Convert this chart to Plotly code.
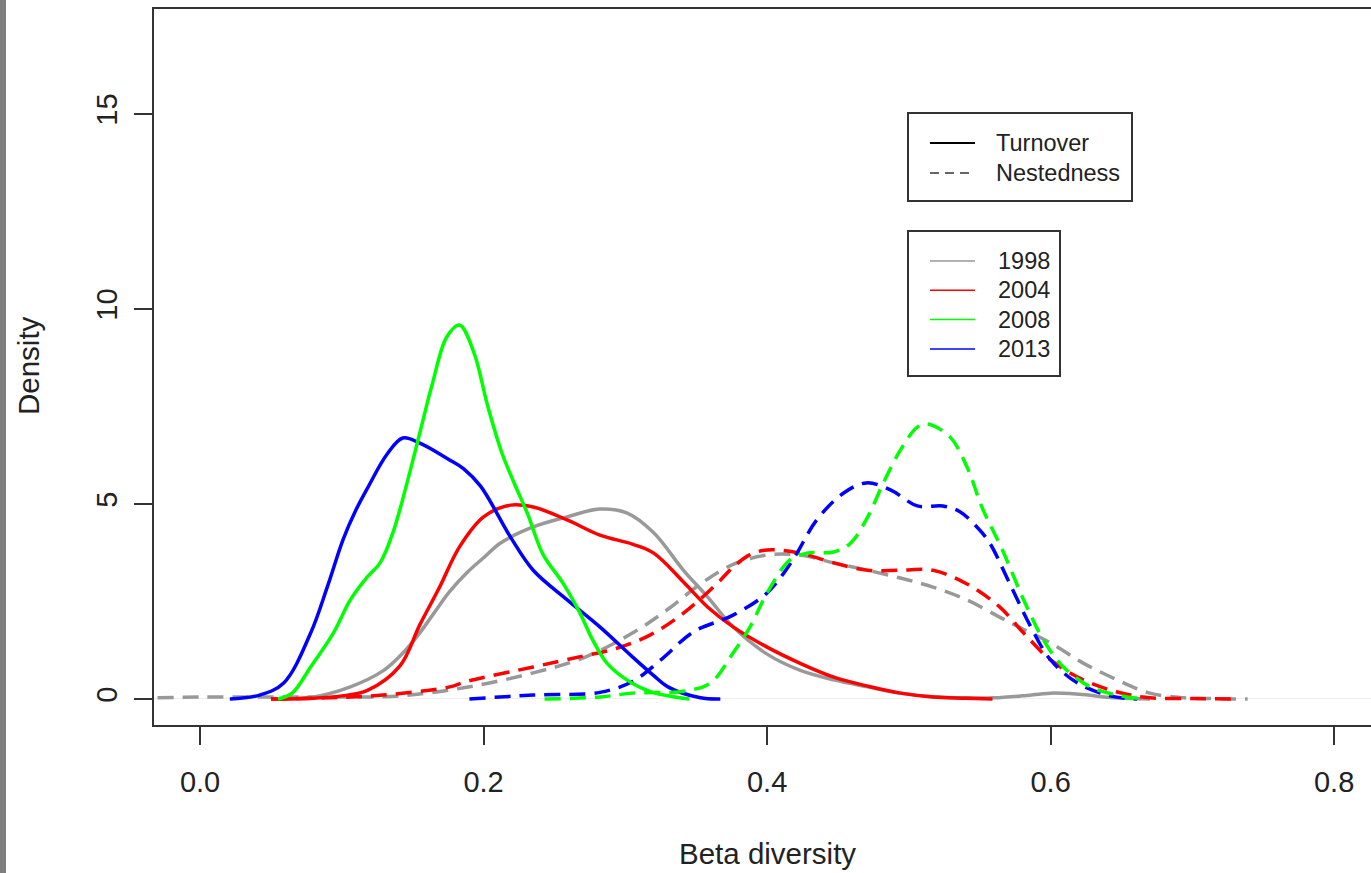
import plotly.graph_objects as go

# ---------------- data ----------------
turn_1998_x = [0.055, 0.08, 0.106, 0.129, 0.141, 0.153, 0.164, 0.176, 0.188, 0.200, 0.212, 0.235, 0.259,
               0.282, 0.301, 0.320, 0.341, 0.358, 0.376, 0.400, 0.423, 0.447, 0.471, 0.494, 0.517, 0.540,
               0.560, 0.580, 0.600, 0.620, 0.645, 0.670]
turn_1998_y = [0.0, 0.05, 0.31, 0.72, 1.1, 1.6, 2.15, 2.75, 3.23, 3.62, 4.0, 4.41, 4.67,
               4.87, 4.77, 4.26, 3.3, 2.62, 1.85, 1.15, 0.74, 0.49, 0.31, 0.15, 0.06, 0.03,
               0.03, 0.08, 0.15, 0.12, 0.03, 0.0]

turn_2004_x = [0.05, 0.08, 0.10, 0.118, 0.141, 0.155, 0.169, 0.183, 0.200, 0.219, 0.235, 0.259, 0.282,
               0.305, 0.320, 0.341, 0.358, 0.376, 0.400, 0.423, 0.447, 0.471, 0.494, 0.517, 0.540, 0.559]
turn_2004_y = [0.0, 0.02, 0.08, 0.22, 0.85, 1.9, 2.87, 3.9, 4.67, 4.97, 4.92, 4.59, 4.2,
               3.97, 3.74, 3.0, 2.36, 1.85, 1.33, 0.92, 0.56, 0.33, 0.15, 0.05, 0.02, 0.0]

turn_2008_x = [0.055, 0.065, 0.078, 0.094, 0.106, 0.118, 0.127, 0.136, 0.146, 0.155, 0.164, 0.174, 0.183,
               0.193, 0.203, 0.213, 0.222, 0.231, 0.242, 0.256, 0.268, 0.277, 0.287, 0.301, 0.318, 0.335, 0.345]
turn_2008_y = [0.0, 0.15, 0.82, 1.69, 2.54, 3.13, 3.49, 4.26, 5.54, 6.82, 8.1, 9.28, 9.59,
               8.9, 7.5, 6.3, 5.5, 4.75, 3.7, 2.97, 2.2, 1.51, 0.92, 0.49, 0.18, 0.05, 0.0]

turn_2013_x = [0.021, 0.042, 0.059, 0.078, 0.090, 0.101, 0.110, 0.118, 0.132, 0.143, 0.155, 0.176, 0.186,
               0.198, 0.219, 0.235, 0.259, 0.282, 0.305, 0.320, 0.330, 0.353, 0.367]
turn_2013_y = [0.0, 0.1, 0.41, 1.69, 2.9, 4.1, 4.85, 5.4, 6.28, 6.69, 6.56, 6.13, 5.9,
               5.45, 4.15, 3.3, 2.54, 1.85, 1.08, 0.6, 0.31, 0.03, 0.0]

nest_1998_x = [-0.03, 0.0, 0.05, 0.10, 0.141, 0.188, 0.235, 0.270, 0.305, 0.330, 0.353, 0.376, 0.400,
               0.423, 0.447, 0.471, 0.494, 0.517, 0.541, 0.564, 0.580, 0.600, 0.623, 0.647, 0.670,
               0.694, 0.715, 0.739]
nest_1998_y = [0.03, 0.05, 0.05, 0.05, 0.08, 0.3, 0.67, 1.05, 1.69, 2.3, 2.95, 3.45, 3.69,
               3.69, 3.49, 3.3, 3.1, 2.87, 2.54, 2.1, 1.8, 1.44, 0.92, 0.49, 0.15,
               0.03, 0.01, 0.0]

nest_2004_x = [0.05, 0.10, 0.129, 0.176, 0.188, 0.235, 0.270, 0.294, 0.318, 0.341, 0.365, 0.376, 0.388,
               0.400, 0.423, 0.447, 0.471, 0.494, 0.517, 0.541, 0.564, 0.581, 0.600, 0.623, 0.647,
               0.670, 0.700, 0.732]
nest_2004_y = [0.0, 0.04, 0.1, 0.31, 0.45, 0.82, 1.1, 1.3, 1.65, 2.2, 2.97, 3.38, 3.7,
               3.82, 3.74, 3.49, 3.3, 3.3, 3.3, 2.95, 2.36, 1.69, 1.0, 0.49, 0.18,
               0.03, 0.01, 0.0]

nest_2008_x = [0.243, 0.282, 0.305, 0.341, 0.360, 0.376, 0.388, 0.400, 0.416, 0.428, 0.447, 0.459, 0.471,
               0.482, 0.494, 0.506, 0.513, 0.529, 0.541, 0.552, 0.566, 0.581, 0.595, 0.609, 0.628,
               0.647, 0.665]
nest_2008_y = [0.0, 0.05, 0.15, 0.2, 0.41, 1.18, 1.85, 2.72, 3.56, 3.74, 3.77, 4.0, 4.67,
               5.54, 6.38, 6.97, 7.05, 6.72, 5.95, 4.88, 3.82, 2.54, 1.51, 0.82, 0.31,
               0.1, 0.0]

nest_2013_x = [0.19, 0.235, 0.282, 0.305, 0.325, 0.348, 0.376, 0.400, 0.418, 0.435, 0.454, 0.470, 0.487,
               0.506, 0.524, 0.536, 0.548, 0.557, 0.571, 0.586, 0.600, 0.619, 0.642, 0.661]
nest_2013_y = [0.0, 0.1, 0.17, 0.45, 1.0, 1.72, 2.15, 2.72, 3.56, 4.59, 5.28, 5.54, 5.36,
               4.95, 4.95, 4.8, 4.41, 4.0, 2.97, 1.85, 1.0, 0.41, 0.08, 0.0]

years = ["1998", "2004", "2008", "2013"]
year_colors = ["#999999", "#FF0000", "#00FF00", "#0000FF"]
x_ticks = [0.0, 0.2, 0.4, 0.6, 0.8]
x_tick_text = ["0.0", "0.2", "0.4", "0.6", "0.8"]
y_ticks = [0, 5, 10, 15]
y_tick_text = ["0", "5", "10", "15"]
type_labels = ["Turnover", "Nestedness"]

# ---------------- figure ----------------
W, H = 1371, 873
ML, MR, MT, MB = 154, 0, 9, 148
PW, PH = W - ML - MR, H - MT - MB
FONT = "Liberation Sans, Arial, Helvetica, sans-serif"
TXT = "#222222"
AX = "#333333"
DASH = "16px,9px"


def px(x):
    return (x - ML) / PW


def py(y):
    return (H - MB - y) / PH


fig = go.Figure()

series = [
    (turn_1998_x, turn_1998_y, 0, "solid"),
    (nest_1998_x, nest_1998_y, 0, DASH),
    (turn_2004_x, turn_2004_y, 1, "solid"),
    (nest_2004_x, nest_2004_y, 1, DASH),
    (turn_2013_x, turn_2013_y, 3, "solid"),
    (nest_2013_x, nest_2013_y, 3, DASH),
    (turn_2008_x, turn_2008_y, 2, "solid"),
    (nest_2008_x, nest_2008_y, 2, DASH),
]
for xs, ys, ci, dash in series:
    fig.add_trace(go.Scatter(
        x=xs, y=ys, mode="lines",
        line=dict(color=year_colors[ci], width=3.5, dash=dash, shape="spline", smoothing=1.0),
        showlegend=False, hoverinfo="skip",
    ))

shapes = []
annotations = []

# left grey strip of the original screenshot
shapes.append(dict(type="rect", xref="paper", yref="paper",
                   x0=px(-2), x1=px(6), y0=py(H + 2), y1=py(-2),
                   fillcolor="#7f7f7f", line=dict(width=0), layer="above"))

# legend 1 (line types)
shapes.append(dict(type="rect", xref="paper", yref="paper",
                   x0=px(908), x1=px(1132), y0=py(201), y1=py(113),
                   fillcolor="white", line=dict(color=AX, width=2)))
type_styles = [("#000000", "solid", 2), ("#666666", "9px,6px", 2)]
for i, lab in enumerate(type_labels):
    yy = 143 + 30 * i
    col, dsh, wd = type_styles[i]
    shapes.append(dict(type="line", xref="paper", yref="paper",
                       x0=px(930), x1=px(975), y0=py(yy), y1=py(yy),
                       line=dict(color=col, width=wd, dash=dsh)))
    annotations.append(dict(xref="paper", yref="paper", x=px(994), y=py(yy),
                            text=lab, showarrow=False, xanchor="left", yanchor="middle",
                            font=dict(family=FONT, size=23.5, color=TXT)))

# legend 2 (years)
shapes.append(dict(type="rect", xref="paper", yref="paper",
                   x0=px(908), x1=px(1060), y0=py(376), y1=py(231),
                   fillcolor="white", line=dict(color=AX, width=2)))
for i, yr in enumerate(years):
    yy = 261 + 29.3 * i
    shapes.append(dict(type="line", xref="paper", yref="paper",
                       x0=px(930), x1=px(975), y0=py(yy), y1=py(yy),
                       line=dict(color=year_colors[i], width=1.5)))
    annotations.append(dict(xref="paper", yref="paper", x=px(996), y=py(yy),
                            text=yr, showarrow=False, xanchor="left", yanchor="middle",
                            font=dict(family=FONT, size=23.5, color=TXT)))

# axis titles
annotations.append(dict(xref="paper", yref="paper", x=px(767), y=py(853),
                        text="Beta diversity", showarrow=False, xanchor="center", yanchor="middle",
                        font=dict(family=FONT, size=29.5, color=TXT)))
annotations.append(dict(xref="paper", yref="paper", x=px(28), y=py(366),
                        text="Density", showarrow=False, xanchor="center", yanchor="middle",
                        textangle=-90, font=dict(family=FONT, size=29.5, color=TXT)))

fig.update_layout(
    width=W, height=H,
    margin=dict(l=ML, r=MR, t=MT, b=MB, pad=0),
    paper_bgcolor="white", plot_bgcolor="white",
    showlegend=False,
    shapes=shapes, annotations=annotations,
    font=dict(family=FONT, color=TXT),
    xaxis=dict(range=[-0.0325, 0.826], tickvals=x_ticks, ticktext=x_tick_text,
               ticks="outside", ticklen=18, tickwidth=2, tickcolor=AX,
               showline=True, linecolor=AX, linewidth=2, mirror=True,
               showgrid=False, zeroline=False, automargin=False,
               tickfont=dict(family=FONT, size=29, color=TXT), ticklabelstandoff=12),
    yaxis=dict(range=[-0.667, 17.69], tickvals=y_ticks, ticktext=y_tick_text,
               ticks="outside", ticklen=18, tickwidth=2, tickcolor=AX,
               showline=True, linecolor=AX, linewidth=2, mirror=False,
               showgrid=False, zeroline=True, zerolinecolor="#eeeeee", zerolinewidth=1,
               automargin=False, tickangle=-90,
               tickfont=dict(family=FONT, size=29, color=TXT), ticklabelstandoff=5),
)

fig.write_html("out.html")
